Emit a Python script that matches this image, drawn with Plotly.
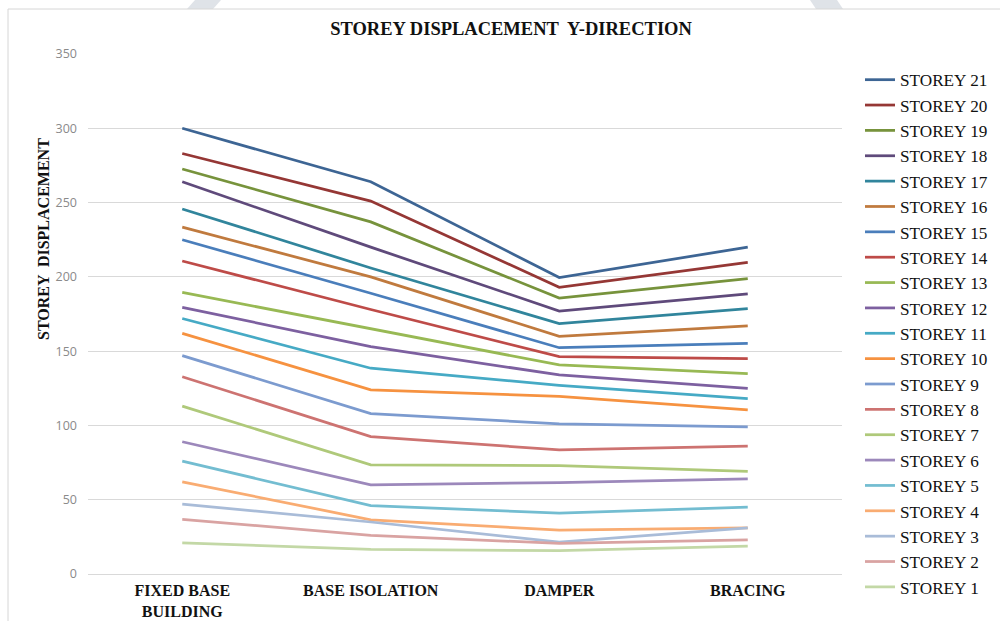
import plotly.graph_objects as go

# Structural systems compared along the x axis
categories = ["FIXED BASE<br>BUILDING", "BASE ISOLATION", "DAMPER", "BRACING"]

# Storey displacement (Y-direction) per storey, one value per system
storey_1 = [21.0, 16.6, 15.7, 18.8]
storey_2 = [36.8, 26.0, 20.6, 23.0]
storey_3 = [47.0, 35.0, 21.5, 31.0]
storey_4 = [62.0, 36.5, 29.5, 31.0]
storey_5 = [76.0, 46.0, 41.0, 45.0]
storey_6 = [89.0, 60.0, 61.5, 64.0]
storey_7 = [113.0, 73.5, 73.0, 69.0]
storey_8 = [132.8, 92.5, 83.5, 86.0]
storey_9 = [147.0, 108.0, 101.0, 99.0]
storey_10 = [162.0, 124.0, 119.5, 110.5]
storey_11 = [172.0, 138.5, 127.0, 118.0]
storey_12 = [179.5, 153.0, 134.0, 125.0]
storey_13 = [189.5, 165.0, 140.7, 134.8]
storey_14 = [210.7, 178.0, 146.3, 145.0]
storey_15 = [225.0, 189.0, 152.3, 155.3]
storey_16 = [233.5, 200.0, 160.0, 167.0]
storey_17 = [245.7, 206.0, 168.5, 178.6]
storey_18 = [264.0, 220.0, 177.0, 188.5]
storey_19 = [272.6, 237.0, 185.7, 198.8]
storey_20 = [283.0, 251.0, 193.0, 209.8]
storey_21 = [300.0, 264.0, 199.5, 220.0]

series = [
    ("STOREY 21", storey_21, "#3d6594"),
    ("STOREY 20", storey_20, "#953735"),
    ("STOREY 19", storey_19, "#77933c"),
    ("STOREY 18", storey_18, "#5f4a7b"),
    ("STOREY 17", storey_17, "#31859c"),
    ("STOREY 16", storey_16, "#c07a3e"),
    ("STOREY 15", storey_15, "#4a7ebb"),
    ("STOREY 14", storey_14, "#be4b48"),
    ("STOREY 13", storey_13, "#98b954"),
    ("STOREY 12", storey_12, "#7d60a0"),
    ("STOREY 11", storey_11, "#46aac5"),
    ("STOREY 10", storey_10, "#f69240"),
    ("STOREY 9", storey_9, "#7c9bcf"),
    ("STOREY 8", storey_8, "#cd7371"),
    ("STOREY 7", storey_7, "#afc97a"),
    ("STOREY 6", storey_6, "#9c88bb"),
    ("STOREY 5", storey_5, "#73bdd1"),
    ("STOREY 4", storey_4, "#f9ac72"),
    ("STOREY 3", storey_3, "#a9bcd8"),
    ("STOREY 2", storey_2, "#d9a3a2"),
    ("STOREY 1", storey_1, "#c3d8a6"),
]

y_ticks = [0, 50, 100, 150, 200, 250, 300, 350]

SERIF = "Liberation Serif"

fig = go.Figure()
for name, values, color in series:
    fig.add_trace(
        go.Scatter(
            x=categories,
            y=values,
            name=name,
            mode="lines",
            line=dict(color=color, width=2.75),
        )
    )

# Plot area in pixels: left 88, right 842, top 54, bottom 574
L, R, T, B = 88, 842, 54, 574
W, H = R - L, B - T


def px_x(px):
    return (px - L) / W


def px_y(py):
    return (B - py) / H


shapes = [
    # faint diagonal bands peeking above the frame
    dict(type="path", xref="paper", yref="paper", layer="below",
         path=f"M {px_x(195)} {px_y(0)} L {px_x(221)} {px_y(0)} L {px_x(213)} {px_y(9)} L {px_x(187)} {px_y(9)} Z",
         fillcolor="#dfe3e8", line=dict(width=0)),
    dict(type="path", xref="paper", yref="paper", layer="below",
         path=f"M {px_x(810)} {px_y(0)} L {px_x(837)} {px_y(0)} L {px_x(843)} {px_y(9)} L {px_x(816)} {px_y(9)} Z",
         fillcolor="#dfe3e8", line=dict(width=0)),
    # chart frame (left and top edges)
    dict(type="line", xref="paper", yref="paper", layer="below",
         x0=px_x(8), x1=px_x(8), y0=px_y(9), y1=px_y(640),
         line=dict(color="#d6d6d6", width=1)),
    dict(type="line", xref="paper", yref="paper", layer="below",
         x0=px_x(8), x1=px_x(1010), y0=px_y(9), y1=px_y(9),
         line=dict(color="#d6d6d6", width=1)),
]

fig.update_layout(
    width=1000,
    height=621,
    margin=dict(l=L, r=1000 - R, t=T, b=621 - B, pad=0, autoexpand=False),
    paper_bgcolor="white",
    plot_bgcolor="white",
    showlegend=True,
    shapes=shapes,
    title=dict(
        text="STOREY DISPLACEMENT  Y-DIRECTION",
        x=0.511,
        xanchor="center",
        y=1 - 29 / 621,
        yanchor="middle",
        font=dict(family=SERIF, size=18.5, color="#111111", weight="bold"),
    ),
    xaxis=dict(
        type="category",
        categoryorder="array",
        categoryarray=categories,
        range=[-0.5, 3.5],
        automargin=False,
        showgrid=False,
        showline=True,
        linecolor="#d9d9d9",
        linewidth=1,
        ticks="",
        ticklabelstandoff=2,
        tickfont=dict(family=SERIF, size=16, color="#111111", weight="bold"),
        zeroline=False,
    ),
    yaxis=dict(
        range=[0, 350],
        automargin=False,
        tickvals=y_ticks,
        ticktext=[str(v) for v in y_ticks],
        showgrid=True,
        gridcolor="#d9d9d9",
        gridwidth=1,
        zeroline=False,
        showline=False,
        ticks="",
        ticklabelstandoff=10,
        tickfont=dict(family="Open Sans", size=12.5, color="#8a8a8a"),
    ),
    legend=dict(
        x=px_x(860),
        xanchor="left",
        y=px_y(62),
        yanchor="top",
        traceorder="normal",
        itemwidth=30,
        maxheight=620,
        font=dict(family=SERIF, size=17.2, color="#111111"),
        bgcolor="rgba(0,0,0,0)",
    ),
    annotations=[
        dict(
            text="STOREY  DISPLACEMENT",
            xref="paper",
            yref="paper",
            x=px_x(44),
            y=px_y(239),
            xanchor="center",
            yanchor="middle",
            textangle=-90,
            showarrow=False,
            font=dict(family=SERIF, size=16, color="#111111", weight="bold"),
        )
    ],
)

fig.write_html("out.html")
